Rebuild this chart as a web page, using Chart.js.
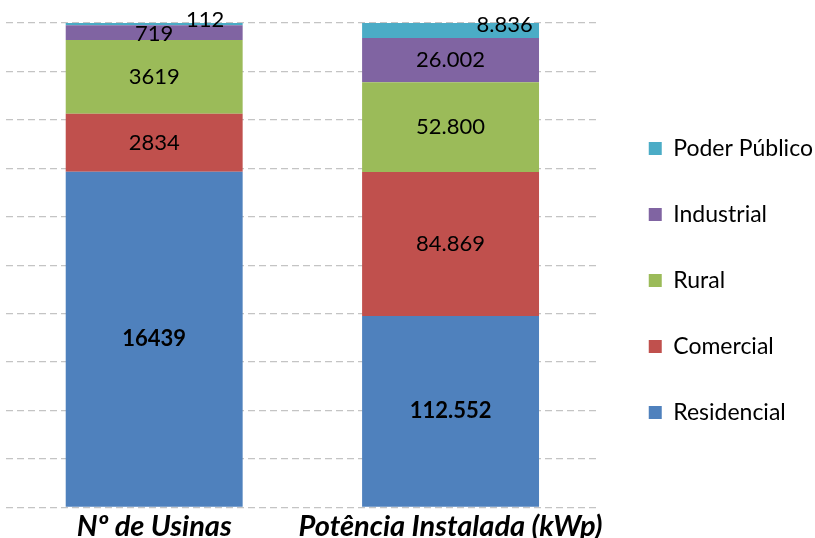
<!DOCTYPE html>
<html>
<head>
<meta charset="utf-8">
<script src="https://cdn.jsdelivr.net/npm/chart.js@4"></script>
<style>
  body { margin: 0; background: #fff; }
  #wrap { width: 815px; height: 538px; }
</style>
</head>
<body>
<div id="wrap"><canvas id="chart" width="815" height="538"></canvas></div>
<script>
const categories = ['Nº de Usinas', 'Potência Instalada (kWp)'];
const seriesNames = ['Residencial', 'Comercial', 'Rural', 'Industrial', 'Poder Público'];
const residencial = [16439, 112552];
const comercial = [2834, 84869];
const rural = [3619, 52800];
const industrial = [719, 26002];
const poderPublico = [112, 8836];
const colors = ['#4F81BD', '#C0504D', '#9BBB59', '#8064A2', '#4BACC6'];
const yTicks = [0, 10, 20, 30, 40, 50, 60, 70, 80, 90, 100];

const raw = [residencial, comercial, rural, industrial, poderPublico];
const totals = categories.map((c, i) => raw.reduce((s, arr) => s + arr[i], 0));

function fmt(v, i) {
    if (i === 0) return String(v);
    return String(v).replace(/\B(?=(\d{3})+(?!\d))/g, '.');
}

// small nudges for labels that excel moved off centre
const labelNudge = {
    '3-0': [0, 1],
    '4-0': [51, -4],
    '4-1': [54, -6]
};

const labelPlugin = {
    id: 'segLabels',
    afterDatasetsDraw(chart) {
        const ctx = chart.ctx;
        chart.data.datasets.forEach((ds, di) => {
            const meta = chart.getDatasetMeta(di);
            meta.data.forEach((bar, i) => {
                const v = raw[di][i];
                let x = bar.x;
                let y = (bar.y + bar.base) / 2;
                const n = labelNudge[di + '-' + i];
                if (n) { x += n[0]; y += n[1]; }
                ctx.save();
                ctx.font = (di === 0 ? 'bold ' : '') + '22px Lato, "Open Sans", sans-serif';
                ctx.fillStyle = '#000';
                ctx.textAlign = 'center';
                ctx.textBaseline = 'middle';
                ctx.fillText(fmt(v, i), x, y);
                ctx.restore();
            });
        });
    }
};

// leave a gap between plot and legend: widen the legend box, then draw it shifted
const legendExtra = 14;
const legendShift = [7, -4];
const legendGapPlugin = {
    id: 'legendGap',
    beforeInit(chart) {
        const lg = chart.legend;
        const origFit = lg.fit;
        lg.fit = function () {
            origFit.call(this);
            this.width += legendExtra;
        };
        const origDraw = lg.draw;
        lg.draw = function () {
            this.ctx.save();
            this.ctx.translate(legendShift[0], legendShift[1]);
            origDraw.call(this);
            this.ctx.restore();
        };
    }
};

const datasets = seriesNames.map((name, di) => ({
    label: name,
    data: raw[di].map((v, i) => v / totals[i] * 100),
    backgroundColor: colors[di],
    borderWidth: 0,
    barPercentage: 0.597,
    categoryPercentage: 1
}));

new Chart(document.getElementById('chart').getContext('2d'), {
    type: 'bar',
    data: { labels: categories, datasets },
    options: {
        responsive: false,
        animation: false,
        layout: { padding: { left: 6, top: 23, right: 0, bottom: -8 } },
        plugins: {
            legend: {
                position: 'right',
                reverse: true,
                labels: {
                    boxWidth: 13,
                    boxHeight: 13,
                    padding: 43,
                    color: '#000',
                    font: { family: 'Lato, "Open Sans", sans-serif', size: 23 }
                }
            },
            tooltip: { enabled: false }
        },
        scales: {
            x: {
                stacked: true,
                grid: { display: false, drawTicks: false },
                border: { display: false },
                ticks: {
                    color: '#000',
                    padding: 7,
                    maxRotation: 0,
                    autoSkip: false,
                    font: { family: 'Lato, "Open Sans", sans-serif', size: 29, weight: 'bold', style: 'italic', lineHeight: 0.85 }
                }
            },
            y: {
                stacked: true,
                min: 0,
                max: 100,
                afterBuildTicks: axis => { axis.ticks = yTicks.map(v => ({ value: v })); },
                ticks: { display: false },
                grid: { color: '#C4C4C4', lineWidth: 1.3, drawTicks: false },
                border: { display: false, dash: [7, 4] }
            }
        }
    },
    plugins: [labelPlugin, legendGapPlugin]
});
</script>
</body>
</html>
